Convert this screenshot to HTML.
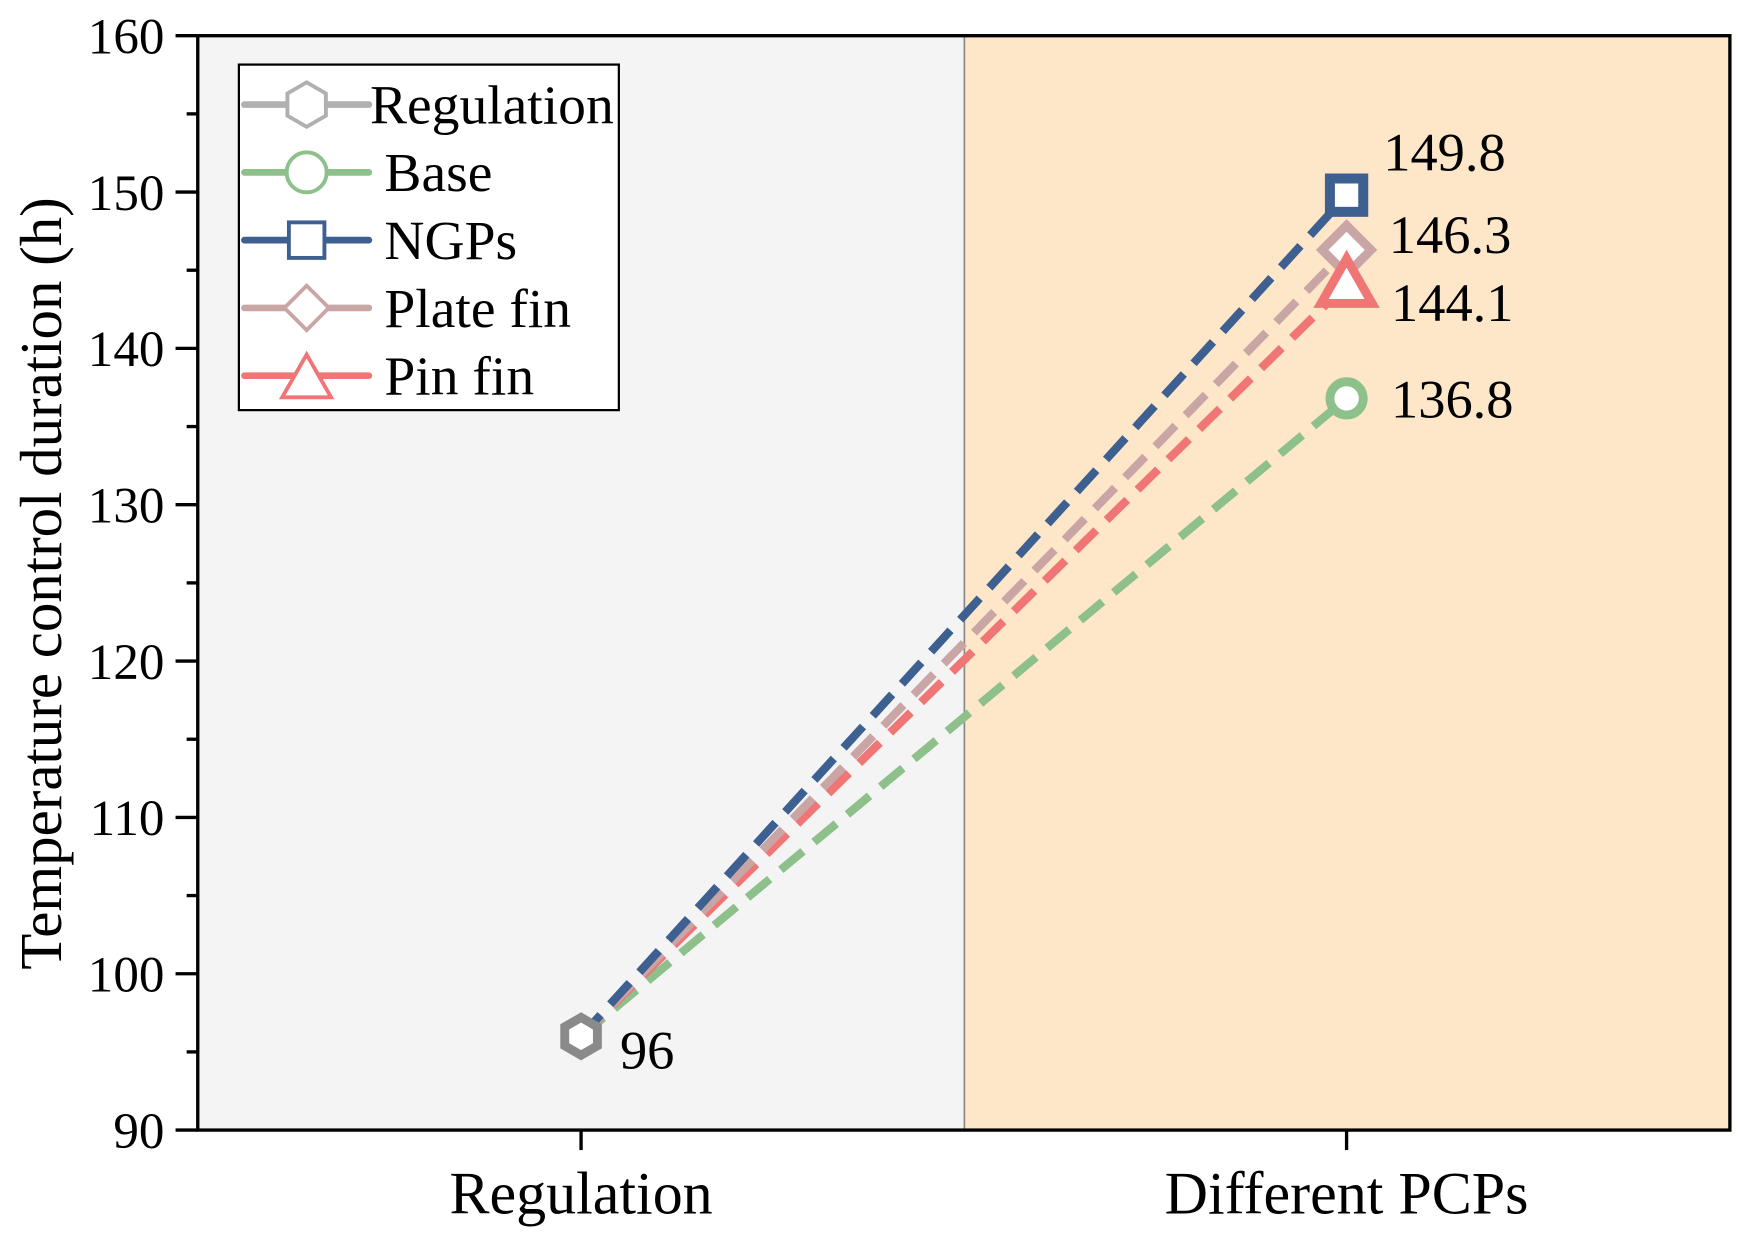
<!DOCTYPE html>
<html><head><meta charset="utf-8"><style>
body{margin:0;background:#fff}
svg text{font-family:"Liberation Serif",serif;fill:#000}
</style></head><body>
<svg width="1741" height="1228" viewBox="0 0 1567 1105" xmlns="http://www.w3.org/2000/svg">
<g id="bg"></g><g id="axes"></g><g id="series"></g><g id="labels"></g><g id="legend"></g>
</svg>
<script>
const categories=["Regulation","Different PCPs"];
const seriesNames=["Regulation","Base","NGPs","Plate fin","Pin fin"];
const regulationValue=96;
const baseValues=[96,136.8];
const ngpsValues=[96,149.8];
const plateValues=[96,146.3];
const pinValues=[96,144.1];
const yTicks=[90,100,110,120,130,140,150,160];
const NS="http://www.w3.org/2000/svg";
const L=178,R=1557,T=32,B=1017,mid=868;
const y=v=>B-(v-90)/70*(B-T);
const xPos=[523,1212];
const x=i=>xPos[i];
function mk(tag,attrs,parent,txt){const e=document.createElementNS(NS,tag);for(const k in attrs)e.setAttribute(k,attrs[k]);if(txt!==undefined)e.textContent=txt;document.getElementById(parent).appendChild(e);return e;}
let e;
e=mk('rect',{x:L,y:T,width:mid-L,height:B-T,fill:'#f4f4f4'},'bg');


e=mk('rect',{x:mid,y:T,width:R-mid,height:B-T,fill:'#fee6c9'},'bg');


mk('line',{x1:mid,y1:T,x2:mid,y2:B,stroke:'#888','stroke-width':1.5},'bg');
e=mk('rect',{x:L,y:T,width:R-L,height:B-T,fill:'none',stroke:'#000','stroke-width':3},'axes');


yTicks.forEach((v,i)=>{
  mk('line',{x1:L-20,y1:y(v),x2:L,y2:y(v),stroke:'#000','stroke-width':3},'axes');
  if(i<yTicks.length-1) mk('line',{x1:L-10,y1:y(v+5),x2:L,y2:y(v+5),stroke:'#000','stroke-width':3},'axes');
  const t=mk('text',{x:L-30,y:y(v)+16,'text-anchor':'end','font-size':46},'axes',v);
  
  
});
categories.forEach((c,i)=>{
  mk('line',{x1:x(i),y1:B,x2:x(i),y2:B+18,stroke:'#000','stroke-width':3},'axes');
  const t=mk('text',{x:x(i),y:B+75,'text-anchor':'middle','font-size':54},'axes',c);
  
  
});
e=mk('text',{x:0,y:0,transform:'translate(55,525) rotate(-90)','text-anchor':'middle','font-size':53},'axes','Temperature control duration (h)');



const col={base:'#8dc08a',ngps:'#3d6091',plate:'#c9a6a5',pin:'#f07676',reg:'#999999'};
function line(vals,c,name){
  const l=mk('line',{x1:x(0),y1:y(vals[0]),x2:x(1),y2:y(vals[1]),stroke:c,'stroke-width':7.5,'stroke-dasharray':'26 13'},'series');
  
  
}
line(baseValues,col.base,'base-line');
line(pinValues,col.pin,'pin-fin-line');
line(plateValues,col.plate,'plate-fin-line');
line(ngpsValues,col.ngps,'ngps-line');
function marker(type,cx,cy,c,sw,s,parent){
  let m;
  if(type==='hex'){const p=[];for(let k=0;k<6;k++){const a=Math.PI/6+k*Math.PI/3;p.push((cx+s*Math.cos(a)).toFixed(1)+','+(cy+s*Math.sin(a)).toFixed(1));}
    m=mk('polygon',{points:p.join(' '),fill:'#fff',stroke:c,'stroke-width':sw},parent);}
  else if(type==='circle') m=mk('circle',{cx,cy,r:s,fill:'#fff',stroke:c,'stroke-width':sw},parent);
  else if(type==='square') m=mk('rect',{x:cx-s,y:cy-s,width:2*s,height:2*s,fill:'#fff',stroke:c,'stroke-width':sw},parent);
  else if(type==='diamond') m=mk('polygon',{points:`${cx},${cy-s} ${cx+s},${cy} ${cx},${cy+s} ${cx-s},${cy}`,fill:'#fff',stroke:c,'stroke-width':sw},parent);
  else m=mk('polygon',{points:`${cx},${cy-s} ${cx+s},${cy+s*0.75} ${cx-s},${cy+s*0.75}`,fill:'#fff',stroke:c,'stroke-width':sw},parent);
  return m;
}
e=marker('hex',x(0),y(regulationValue),'#8a8a8a',8,17,'series');


e=marker('circle',x(1),y(baseValues[1]),col.base,8,15,'series');


e=marker('diamond',x(1),y(plateValues[1]),col.plate,8,22,'series');


e=marker('tri',x(1),y(pinValues[1]),col.pin,8,23,'series');


e=marker('square',x(1),y(ngpsValues[1]),col.ngps,9,15,'series');



function lab(t,xx,yy,name){const el=mk('text',{x:xx,y:yy,'font-size':49},'labels',t);}
lab(String(regulationValue),558,y(regulationValue)+29,'regulation-value-label');
lab(ngpsValues[1].toFixed(1),1245,y(ngpsValues[1])-22,'ngps-value-label');
lab(plateValues[1].toFixed(1),1250,y(plateValues[1])+3,'plate-fin-value-label');
lab(pinValues[1].toFixed(1),1252,y(pinValues[1])+33,'pin-fin-value-label');
lab(baseValues[1].toFixed(1),1252,y(baseValues[1])+17,'base-value-label');

e=mk('rect',{x:215,y:58,width:342,height:311,fill:'#fff',stroke:'#000','stroke-width':2},'legend');


const legTypes=['hex','circle','square','diamond','tri'];
const legCols=['#b0b0b0',col.base,col.ngps,col.plate,col.pin];
const legSizes=[20,18,16,20,22];
seriesNames.forEach((n,i)=>{
  const cy=94+i*61;
  mk('line',{x1:220,y1:cy,x2:332,y2:cy,stroke:legCols[i],'stroke-width':6,'stroke-linecap':'round'},'legend');
  marker(legTypes[i],276,legTypes[i]==='tri'?cy+3:cy,legCols[i],3.5,legSizes[i],'legend');
  const t=mk('text',{x:i===0?333:346,y:cy+17,'font-size':50},'legend',n);
  
  
});
</script>
</body></html>
